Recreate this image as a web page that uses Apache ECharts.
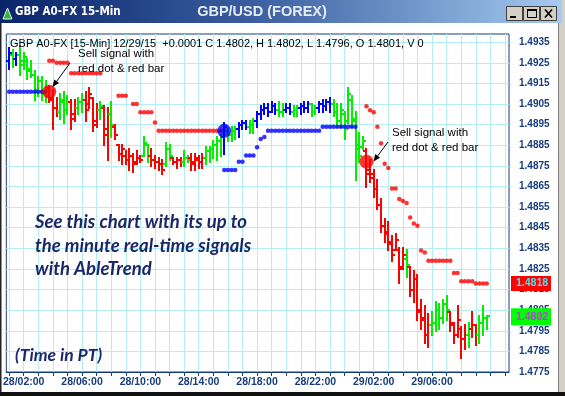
<!DOCTYPE html>
<html><head><meta charset="utf-8">
<script src="https://cdn.jsdelivr.net/npm/echarts@6.0.0/dist/echarts.min.js"></script>
<style>html,body{margin:0;padding:0;background:#fff;}#c{width:565px;height:396px;}</style>
</head><body><div id="c"></div>
<script>
// ---- DATA (15-min bars, index 0 = 28/02:00, first bar index -4) ----
const firstIndex = -4;
const xTickLabels = ['28/02:00','28/06:00','28/10:00','28/14:00','28/18:00','28/22:00','29/02:00','29/06:00'];
const yTickLabels = ['1.4775','1.4785','1.4795','1.4805','1.4815','1.4825','1.4835','1.4845','1.4855','1.4865','1.4875','1.4885','1.4895','1.4905','1.4915','1.4925','1.4935'];

const highs = [
1.4932,1.4931,1.4930,1.4933,1.4930,1.4927,1.4926,1.4921,1.4918,1.4918,1.4916,1.4914,1.4912,1.4908,1.4910,1.4911,
1.4909,1.4907,1.4907,1.4908,1.4910,1.4911,1.4913,1.4908,1.4905,1.4906,1.4904,1.4903,1.4906,1.4895,1.4885,1.4885,
1.4882,1.4883,1.4881,1.4882,1.4880,1.4889,1.4885,1.4883,1.4880,1.4879,1.4878,1.4886,1.4885,1.4879,1.4879,1.4879,
1.4882,1.4880,1.4881,1.4881,1.4880,1.4881,1.4884,1.4884,1.4887,1.4889,1.4890,1.4896,1.4893,1.4894,1.4894,1.4896,
1.4897,1.4897,1.4897,1.4898,1.4901,1.4904,1.4905,1.4905,1.4906,1.4905,1.4906,1.4905,1.4905,1.4905,1.4904,1.4904,
1.4905,1.4906,1.4906,1.4905,1.4904,1.4906,1.4907,1.4907,1.4908,1.4907,1.4905,1.4905,1.4901,1.4913,1.4909,1.4901,
1.4891,1.4889,1.4883,1.4878,1.4873,1.4868,1.4859,1.4849,1.4848,1.4841,1.4842,1.4835,1.4835,1.4834,1.4826,1.4824,
1.4822,1.4810,1.4807,1.4803,1.4804,1.4809,1.4808,1.4810,1.4812,1.4804,1.4799,1.4807,1.4797,1.4798,1.4799,1.4804,
1.4798,1.4802,1.4807,1.4802];
const lows = [
1.4922,1.4923,1.4924,1.4919,1.4922,1.4917,1.4918,1.4907,1.4909,1.4907,1.4906,1.4906,1.4893,1.4899,1.4898,1.4896,
1.4900,1.4893,1.4897,1.4900,1.4901,1.4897,1.4903,1.4892,1.4894,1.4898,1.4885,1.4878,1.4889,1.4888,1.4878,1.4876,
1.4876,1.4873,1.4872,1.4876,1.4877,1.4880,1.4877,1.4875,1.4874,1.4873,1.4871,1.4875,1.4878,1.4876,1.4874,1.4875,
1.4875,1.4877,1.4873,1.4873,1.4874,1.4874,1.4876,1.4877,1.4879,1.4878,1.4880,1.4881,1.4887,1.4887,1.4888,1.4889,
1.4893,1.4893,1.4891,1.4891,1.4894,1.4898,1.4900,1.4899,1.4901,1.4900,1.4899,1.4899,1.4901,1.4900,1.4899,1.4899,
1.4900,1.4901,1.4901,1.4899,1.4900,1.4901,1.4901,1.4902,1.4901,1.4899,1.4894,1.4894,1.4888,1.4896,1.4894,1.4868,
1.4877,1.4883,1.4865,1.4867,1.4860,1.4854,1.4843,1.4838,1.4834,1.4829,1.4834,1.4818,1.4825,1.4821,1.4812,1.4809,
1.4800,1.4796,1.4789,1.4787,1.4793,1.4795,1.4796,1.4799,1.4800,1.4795,1.4789,1.4792,1.4782,1.4786,1.4787,1.4792,
1.4788,1.4789,1.4793,1.4796];
const opens = [
1.4926,1.4929,1.4927,1.4929,1.4926,1.4926,1.4922,1.4919,1.4912,1.4916,1.4911,1.4913,1.4908,1.4903,1.4901,1.4906,
1.4902,1.4906,1.4900,1.4903,1.4906,1.4907,1.4905,1.4908,1.4897,1.4902,1.4903,1.4893,1.4900,1.4894,1.4885,1.4881,
1.4880,1.4878,1.4880,1.4877,1.4879,1.4880,1.4885,1.4880,1.4878,1.4877,1.4876,1.4876,1.4883,1.4879,1.4877,1.4878,
1.4877,1.4879,1.4879,1.4877,1.4878,1.4877,1.4879,1.4882,1.4883,1.4885,1.4887,1.4889,1.4892,1.4890,1.4892,1.4893,
1.4895,1.4896,1.4894,1.4895,1.4897,1.4900,1.4902,1.4903,1.4901,1.4904,1.4902,1.4901,1.4902,1.4903,1.4901,1.4902,
1.4903,1.4904,1.4903,1.4905,1.4901,1.4903,1.4905,1.4904,1.4906,1.4905,1.4901,1.4897,1.4900,1.4897,1.4907,1.4898,
1.4885,1.4884,1.4882,1.4873,1.4871,1.4864,1.4856,1.4846,1.4843,1.4838,1.4834,1.4834,1.4826,1.4830,1.4826,1.4815,
1.4820,1.4805,1.4801,1.4793,1.4798,1.4799,1.4805,1.4801,1.4808,1.4804,1.4799,1.4793,1.4796,1.4791,1.4793,1.4796,
1.4798,1.4793,1.4799,1.4801];
const closes = [
1.4930,1.4927,1.4929,1.4924,1.4928,1.4921,1.4919,1.4911,1.4916,1.4910,1.4909,1.4907,1.4903,1.4901,1.4907,1.4902,
1.4906,1.4898,1.4903,1.4906,1.4907,1.4902,1.4910,1.4895,1.4902,1.4904,1.4890,1.4900,1.4895,1.4890,1.4881,1.4883,
1.4878,1.4880,1.4876,1.4879,1.4878,1.4886,1.4880,1.4878,1.4877,1.4876,1.4873,1.4883,1.4880,1.4877,1.4878,1.4877,
1.4879,1.4878,1.4876,1.4879,1.4877,1.4879,1.4882,1.4883,1.4885,1.4887,1.4889,1.4894,1.4890,1.4892,1.4893,1.4895,
1.4896,1.4894,1.4895,1.4897,1.4900,1.4902,1.4903,1.4901,1.4904,1.4902,1.4901,1.4902,1.4903,1.4901,1.4902,1.4903,
1.4904,1.4903,1.4905,1.4901,1.4903,1.4905,1.4904,1.4906,1.4905,1.4901,1.4897,1.4902,1.4893,1.4910,1.4897,1.4883,
1.4880,1.4887,1.4871,1.4869,1.4864,1.4856,1.4846,1.4842,1.4837,1.4832,1.4839,1.4825,1.4832,1.4827,1.4815,1.4820,
1.4804,1.4800,1.4793,1.4798,1.4799,1.4805,1.4801,1.4808,1.4805,1.4798,1.4793,1.4800,1.4791,1.4793,1.4796,1.4798,
1.4793,1.4799,1.4801,1.4802];
// trend colour of each bar: b = blue, g = green, r = red
const barColors = ('bgbgggggggg'+'rrr'+'ggg'+'rr'+'gg'+'rrrr'+'g'+'rr'+'g'+'rrrrrrrr'+'gg'+'rrrr'+'gg'+'rrr'+'gg'+'rrrr'+
  'ggggg'+'b'+'ggg'+'bbb'+'gg'+'bbbbbb'+'gg'+'bb'+'gg'+'bbb'+'gg'+'bbbb'+'ggggggggg'+'rrrrrrrrrrr'+'g'+'rrrrrr'+
  'ggggg'+'rrrrr'+'g'+'rr'+'ggg').split('');
const N = null;
const redStop = [
N,N,N,N,N,N,N,N,N,N,N, 1.4926,1.4926, 1.4925,1.4925,1.4925,1.4925,
1.4920,1.4920,1.4920,1.4920,1.4920,1.4920,1.4920,1.4920,1.4920, N,N,N,N, 1.4909,1.4909,1.4909, N, 1.4905,1.4905,
1.4901,1.4901,1.4901,1.4901, 1.4896,
1.4892,1.4892,1.4892,1.4892,1.4892,1.4892,1.4892,1.4892,1.4892,1.4892,1.4892,1.4892,1.4892,1.4892,1.4892,1.4892,1.4892,1.4892,
N,N,N,N,N,N,N,N,N,N,N,N,N,N,N,N,N,N,N,N,N,N,N,N,N,N,N,N,N,N,N,N,N,N,N,N,N,N,N,
1.4904,1.4902,1.4901,1.4894,1.4886,1.4876,1.4874,1.4864,1.4864,1.4859,1.4858,1.4857,1.4850,1.4847,1.4846,1.4834,1.4833,
1.4829,1.4829,1.4829,1.4829,1.4829,1.4829,1.4829, 1.4823,1.4823, 1.4819,1.4819,1.4819,1.4819, 1.4818,1.4818,1.4818,1.4818];
const blueStop = [
1.4911,1.4911,1.4911,1.4911,1.4911,1.4911,1.4911,1.4911,1.4911,1.4911,1.4911,
N,N,N,N,N,N,N,N,N,N,N,N,N,N,N,N,N,N,N,N,N,N,N,N,N,N,N,N,N,N,N,N,N,N,N,N,N,N,N,N,N,N,N,N,N,N,N,N,
1.4873,1.4873,1.4873,1.4873, 1.4877,1.4877, 1.4880,1.4880,1.4880, 1.4884, 1.4888, 1.4889,
1.4892,1.4892,1.4892,1.4892,1.4892,1.4892,1.4892,1.4892,1.4892,1.4892,1.4892,1.4892,1.4892,1.4892,1.4892,
1.4894,1.4894,1.4894,1.4894,1.4894,1.4894,1.4894,1.4894,1.4894,1.4894,
N,N,N,N,N,N,N,N,N,N,N,N,N,N,N,N,N,N,N,N,N,N,N,N,N,N,N,N,N,N,N,N,N,N,N,N];
const sellSignals = [[7, 1.4911], [94, 1.4877]];
const buySignals = [[55, 1.4892]];
const headerText = 'GBP A0-FX [15-Min] 12/29/15  +0.0001 C 1.4802, H 1.4802, L 1.4796, O 1.4801, V 0';

// ---- CHART ----
const NAVY = '#173c7e';
const GRIDC = '#b4eef2';
const FONT = "'Liberation Sans', Arial, sans-serif";
const colorMap = {r: '#ff0000', g: '#00f000', b: '#0000ff'};

const chart = echarts.init(document.getElementById('c'), null, {renderer: 'canvas', width: 565, height: 396});

const ohlcData = highs.map((h, k) => ({
  value: [firstIndex + k, opens[k], closes[k], lows[k], h],
  itemStyle: {color: colorMap[barColors[k]]}
}));
const toPoints = arr => arr.map((v, k) => v == null ? null : [firstIndex + k, v]).filter(Boolean);

const hourTicks = [];
for (let v = -4; v <= 132; v += 4) hourTicks.push(v);
const labelTicks = xTickLabels.map((_, k) => k * 16);
const yTicks = yTickLabels.map(Number);

function renderOHLC(params, api) {
  const x = api.value(0);
  const pO = api.coord([x, api.value(1)]);
  const pC = api.coord([x, api.value(2)]);
  const pL = api.coord([x, api.value(3)]);
  const pH = api.coord([x, api.value(4)]);
  const cx = Math.round(pH[0]);
  const color = api.visual('color');
  const st = {stroke: color, lineWidth: 2};
  const yo = Math.round(pO[1]), yc = Math.round(pC[1]);
  return {type: 'group', children: [
    {type: 'line', shape: {x1: cx, y1: Math.round(pH[1]) - 1, x2: cx, y2: Math.round(pL[1]) + 1}, style: st},
    {type: 'line', shape: {x1: cx - 3, y1: yo, x2: cx, y2: yo}, style: st},
    {type: 'line', shape: {x1: cx, y1: yc, x2: cx + 3, y2: yc}, style: st}
  ]};
}

function arrow(x1, y1, x2, y2) {
  const a = Math.atan2(y2 - y1, x2 - x1), L = 7, W = 3;
  const bx = x2 - L * Math.cos(a), by = y2 - L * Math.sin(a);
  const px = -Math.sin(a) * W, py = Math.cos(a) * W;
  return [
    {type: 'line', shape: {x1, y1, x2: bx, y2: by}, style: {stroke: '#000', lineWidth: 1}, z: 60},
    {type: 'polygon', shape: {points: [[x2, y2], [bx + px, by + py], [bx - px, by - py]]}, style: {fill: '#000'}, z: 60}
  ];
}

const BIG = 'italic bold 18.5px Lato, ' + FONT;
const graphics = [
  // window frame
  {type: 'rect', shape: {x: 0, y: 0, width: 565, height: 396}, style: {fill: 'none', stroke: '#222', lineWidth: 3}, z: 90},
  {type: 'rect', shape: {x: 558, y: 0, width: 7, height: 396}, style: {fill: '#d4d0c8'}, z: 91},
  {type: 'line', shape: {x1: 558.5, y1: 23, x2: 558.5, y2: 392}, style: {stroke: '#808080', lineWidth: 1}, z: 92},
  {type: 'rect', shape: {x: 0, y: 392, width: 565, height: 4}, style: {fill: '#111'}, z: 92},
  // title bar
  {type: 'rect', shape: {x: 0, y: 0, width: 562, height: 23},
    style: {fill: new echarts.graphic.LinearGradient(0, 0, 1, 0, [{offset: 0, color: '#0a246a'}, {offset: 0.45, color: '#3a5ea0'}, {offset: 1, color: '#a6caf0'}])}, z: 93},
  {type: 'polygon', shape: {points: [[3, 19], [7.5, 8], [12, 19]]}, style: {fill: '#2fb33a', stroke: '#e8f4e8', lineWidth: 1}, z: 94},
  {type: 'text', x: 15, y: 12, style: {text: 'GBP A0-FX 15-Min', fill: '#ffffff', font: "bold 11.5px 'DejaVu Sans Condensed', " + FONT, verticalAlign: 'middle'}, z: 94},
  {type: 'text', x: 262, y: 12, style: {text: 'GBP/USD (FOREX)', fill: '#e6ecf6', font: 'bold 14.5px ' + FONT, align: 'center', verticalAlign: 'middle'}, z: 94},
  // window buttons
  ...[506, 523, 540].map(bx => ({type: 'rect', shape: {x: bx + 0.5, y: 6.5, width: 16, height: 14}, style: {fill: '#d4d0c8', stroke: '#404040', lineWidth: 1}, z: 94})),
  {type: 'rect', shape: {x: 510, y: 16, width: 6, height: 2}, style: {fill: '#000'}, z: 95},
  {type: 'rect', shape: {x: 527.5, y: 9.5, width: 9, height: 8}, style: {fill: 'none', stroke: '#000', lineWidth: 1}, z: 95},
  {type: 'rect', shape: {x: 527, y: 9, width: 10, height: 2}, style: {fill: '#000'}, z: 95},
  {type: 'line', shape: {x1: 545, y1: 9.5, x2: 552, y2: 17.5}, style: {stroke: '#000', lineWidth: 1.6}, z: 95},
  {type: 'line', shape: {x1: 552, y1: 9.5, x2: 545, y2: 17.5}, style: {stroke: '#000', lineWidth: 1.6}, z: 95},
  // header line inside plot
  {type: 'text', x: 10, y: 44, style: {text: headerText, fill: '#000', font: '11px ' + FONT, verticalAlign: 'middle'}, z: 60},
  // annotations
  {type: 'text', x: 78, y: 54, style: {text: 'Sell signal with', fill: '#000', font: '11.5px ' + FONT, verticalAlign: 'middle'}, z: 60},
  {type: 'text', x: 78, y: 68.5, style: {text: 'red dot & red bar', fill: '#000', font: '11.5px ' + FONT, verticalAlign: 'middle'}, z: 60},
  ...arrow(70, 63, 52.5, 87),
  {type: 'text', x: 392, y: 133, style: {text: 'Sell signal with', fill: '#000', font: '11.5px ' + FONT, verticalAlign: 'middle'}, z: 60},
  {type: 'text', x: 392, y: 147.5, style: {text: 'red dot & red bar', fill: '#000', font: '11.5px ' + FONT, verticalAlign: 'middle'}, z: 60},
  ...arrow(388, 142, 373.5, 161.5),
  {type: 'text', x: 35, y: 222, style: {text: 'See this chart with its up to', fill: '#1a2868', font: BIG, verticalAlign: 'middle'}, z: 60},
  {type: 'text', x: 35, y: 246, style: {text: 'the minute real-time signals', fill: '#1a2868', font: BIG, verticalAlign: 'middle'}, z: 60},
  {type: 'text', x: 35, y: 269, style: {text: 'with AbleTrend', fill: '#1a2868', font: BIG, verticalAlign: 'middle'}, z: 60},
  {type: 'text', x: 15, y: 355, style: {text: '(Time in PT)', fill: '#1a2868', font: 'italic bold 17.5px Lato, ' + FONT, verticalAlign: 'middle'}, z: 60}
];

const option = {
  animation: false,
  backgroundColor: '#ffffff',
  grid: {left: 4, right: 56, top: 34, bottom: 24, show: true, borderColor: NAVY, borderWidth: 1, backgroundColor: '#ffffff'},
  xAxis: {
    type: 'value', min: -4.78, max: 133.1, position: 'bottom',
    axisLine: {show: true, onZero: false, lineStyle: {color: NAVY, width: 1}},
    axisTick: {show: true, length: 4, customValues: hourTicks, lineStyle: {color: NAVY}},
    axisLabel: {customValues: labelTicks, formatter: v => xTickLabels[Math.round(v / 16)] || '', color: NAVY,
      fontWeight: 'bold', fontSize: 10.5, fontFamily: FONT, margin: 5},
    splitLine: {show: true, lineStyle: {color: GRIDC, width: 1}}
  },
  yAxis: {
    type: 'value', position: 'right', min: 1.4775, max: 1.4939, scale: true,
    axisLine: {show: false},
    axisTick: {show: false, customValues: yTicks},
    axisLabel: {customValues: yTicks, formatter: v => v.toFixed(4), color: NAVY, fontWeight: 'bold', fontSize: 10, fontFamily: FONT, margin: 10},
    splitLine: {show: true, lineStyle: {color: GRIDC, width: 1}}
  },
  graphic: graphics,
  series: [
    {type: 'custom', name: 'bars', renderItem: renderOHLC, data: ohlcData, encode: {x: 0, y: [1, 2, 3, 4]}, z: 3},
    {type: 'scatter', name: 'redStop', data: toPoints(redStop), symbol: 'circle', symbolSize: 4.5, itemStyle: {color: '#ff0000'}, z: 4},
    {type: 'scatter', name: 'blueStop', data: toPoints(blueStop), symbol: 'circle', symbolSize: 4.5, itemStyle: {color: '#0000ff'}, z: 4},
    {type: 'scatter', name: 'sell', data: sellSignals, symbol: 'circle', symbolSize: 14, itemStyle: {color: '#ff0000'}, z: 5},
    {type: 'scatter', name: 'buy', data: buySignals, symbol: 'circle', symbolSize: 14, itemStyle: {color: '#0000ff'}, z: 5}
  ]
};
chart.setOption(option);

// price tags at right, positioned through the y axis scale
const lastStop = redStop[redStop.length - 1];
const lastClose = closes[closes.length - 1];
const yStop = chart.convertToPixel({yAxisIndex: 0}, lastStop);
const yClose = chart.convertToPixel({yAxisIndex: 0}, lastClose);
chart.setOption({graphic: graphics.concat([
  {type: 'rect', shape: {x: 511, y: yStop - 7.5, width: 40, height: 15}, style: {fill: '#ff0000'}, z: 80},
  {type: 'text', x: 532, y: yStop, style: {text: lastStop.toFixed(4), fill: '#40e8f8', font: 'bold 10.5px ' + FONT, align: 'center', verticalAlign: 'middle'}, z: 81},
  {type: 'rect', shape: {x: 511, y: yClose - 8, width: 40, height: 17}, style: {fill: '#00ff00'}, z: 80},
  {type: 'text', x: 532, y: yClose + 0.5, style: {text: lastClose.toFixed(4), fill: '#cc33ee', font: 'bold 10.5px ' + FONT, align: 'center', verticalAlign: 'middle'}, z: 81}
])});
</script></body></html>
